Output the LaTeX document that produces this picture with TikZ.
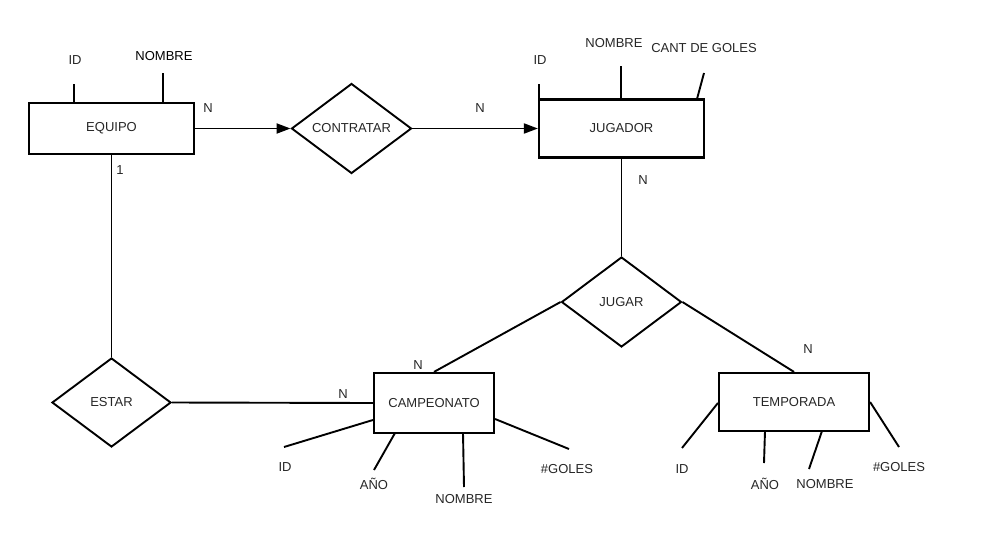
\documentclass[tikz,border=0pt]{standalone}
\usepackage{fontspec}
\setmainfont{Liberation Sans}
\usetikzlibrary{shapes.geometric,arrows.meta,calc}
\begin{document}
\begin{tikzpicture}[x=1pt,y=-1pt,
  every node/.style={font=\fontsize{13}{15}\selectfont, text=black!85},
  ent/.style={draw, line width=2.2pt, minimum width=#1, minimum height=58pt, inner sep=0pt},
  rel/.style={draw, diamond, aspect=1.33, inner sep=0pt, line width=1.9pt, minimum width=120pt, minimum height=90pt},
  lbl/.style={inner sep=1pt},
  ln/.style={line width=1.9pt},
  arr/.style={line width=1.9pt, -{Triangle[length=14pt,width=10pt]}}
]
\useasboundingbox (0,0) rectangle (987,541);
% entities
\node[ent=165pt, minimum height=51pt] (eq) at (111.5,128.5) {EQUIPO};
\node[ent=165pt] (jug) at (621.5,128.5) {JUGADOR};
\node[ent=120pt, minimum height=60pt] (camp) at (434,403) {CAMPEONATO};
\node[ent=150pt] (temp) at (794,402) {TEMPORADA};
% relations
\node[rel] (contr) at (351.5,128.5) {CONTRATAR};
\node[rel, minimum height=90pt] (jugar) at (621.5,302) {JUGAR};
\node[rel, minimum width=119pt, minimum height=89pt] (estar) at (111.5,402.5) {ESTAR};
% connectors
\draw[arr] (eq.east) -- (contr.west);
\draw[arr] (contr.east) -- (jug.west);
\draw[ln] (eq.south) -- (estar.north);
\draw[ln] (estar.east) -- (camp.west);
\draw[ln] (jug.south) -- (jugar.north);
\draw[ln] (jugar.west) -- (camp.north);
\draw[ln] (jugar.east) -- (temp.north);
% cardinalities
\node[lbl] (n1) at (208,108) {N};
\node[lbl] (one) at (120,170) {1};
\node[lbl] (n2) at (480,108) {N};
\node[lbl] (n3) at (643,180) {N};
\node[lbl] (n4) at (418,365) {N};
\node[lbl] (n5) at (808,349) {N};
\node[lbl] (n6) at (343,394) {N};
% EQUIPO attributes
\node[lbl] (eqid) at (75,60) {ID};
\node[lbl, text=black] (eqnom) at (164,56) {NOMBRE};
\coordinate (a1) at (74,84);
\coordinate (a2) at (163,73);
\draw[ln] (a1) -- (a1 |- eq.north);
\draw[ln] (a2) .. controls (163.5,88) .. (a2 |- eq.north);
% JUGADOR attributes
\node[lbl] (jid) at (540,60) {ID};
\node[lbl] (jnom) at (614,43) {NOMBRE};
\node[lbl] (jcant) at (704,48) {CANT DE GOLES};
\coordinate (b1) at (539,84);
\coordinate (b2) at (621,66);
\coordinate (b3) at (704,73);
\draw[ln] (b1) -- (b1 |- jug.north);
\draw[ln] (b2) -- (b2 |- jug.north);
\draw[ln] (b3) -- (697,99);
% CAMPEONATO attributes
\node[lbl] (cid) at (285,467) {ID};
\node[lbl] (cano) at (374,484) {AÑO};
\node[lbl] (cnom) at (464,499) {NOMBRE};
\node[lbl] (cgol) at (567,469) {\#GOLES};
\coordinate (c1) at (284,447);
\coordinate (c2) at (374,470);
\coordinate (c3) at (464,487);
\coordinate (c4) at (569,449);
\draw[ln] (c1) -- (camp.west |- 0,420);
\draw[ln] (c2) -- (395,433);
\draw[ln] (c3) -- (463,433);
\draw[ln] (c4) -- (camp.east |- 0,419);
% TEMPORADA attributes
\node[lbl] (tid) at (682,469) {ID};
\node[lbl] (tano) at (765,484) {AÑO};
\node[lbl] (tnom) at (825,484) {NOMBRE};
\node[lbl] (tgol) at (899,467) {\#GOLES};
\coordinate (d1) at (682,448);
\coordinate (d2) at (764,463);
\coordinate (d3) at (809,469);
\coordinate (d4) at (899,447);
\draw[ln] (d1) -- (temp.west |- 0,403);
\draw[ln] (d2) -- (765,431);
\draw[ln] (d3) -- (822,431);
\draw[ln] (d4) -- (temp.east |- 0,402);
\end{tikzpicture}
\end{document}
